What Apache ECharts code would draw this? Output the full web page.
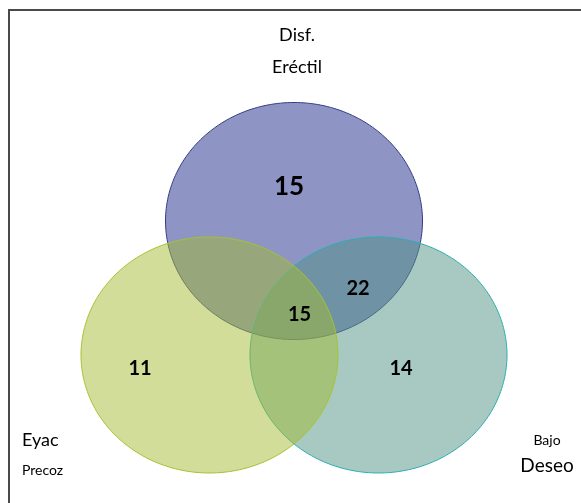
<!DOCTYPE html>
<html>
<head>
<meta charset="utf-8">
<script src="https://cdn.jsdelivr.net/npm/echarts@6/dist/echarts.min.js"></script>
<style>
html,body{margin:0;padding:0;background:#fff;}
#c{width:581px;height:503px;}
</style>
</head>
<body>
<div id="c"></div>
<script>
// ---- data ----
const setNames = ['Disf.\nEréctil', 'Eyac\nPrecoz', 'Bajo\nDeseo'];
const regionNames = ['Solo Disf. Eréctil', 'Solo Eyac Precoz', 'Solo Bajo Deseo', 'Disf. Eréctil + Bajo Deseo', 'Las tres'];
const regionValues = [15, 11, 14, 22, 15];

// ---- layout (geometry in chart units == pixels) ----
const ellipseLayout = [
  {cx: 294, cy: 221, rx: 128.5, ry: 118.5, fill: 'rgba(29,41,137,0.5)', stroke: '#353c86'},
  {cx: 209.5, cy: 355, rx: 128.5, ry: 118, fill: 'rgba(163,187,51,0.5)', stroke: '#a4c232'},
  {cx: 378.5, cy: 355, rx: 128.5, ry: 118, fill: 'rgba(81,147,133,0.5)', stroke: '#2aaeb0'}
];
const drawOrder = [0, 2, 1];
const regionLabelPos = [[289, 187, 26], [140, 369, 20], [401, 369, 20], [358, 289, 20], [299.5, 315, 20]];

const chart = echarts.init(document.getElementById('c'), null, {renderer: 'canvas'});

const ellipseData = drawOrder.map(i => [i]);

function ellipsePoints(api, e) {
  const pts = [];
  const n = 240;
  for (let k = 0; k < n; k++) {
    const t = 2 * Math.PI * k / n;
    pts.push(api.coord([e.cx + e.rx * Math.cos(t), e.cy + e.ry * Math.sin(t)]));
  }
  return pts;
}

const font = 'Lato, "Open Sans", sans-serif';

const option = {
  animation: false,
  grid: {left: 0, right: 0, top: 0, bottom: 0},
  xAxis: {type: 'value', min: 0, max: 581, show: false},
  yAxis: {type: 'value', min: 0, max: 503, inverse: true, show: false},
  graphic: [{
    type: 'rect', shape: {x: 9, y: 10, width: 620, height: 560},
    style: {fill: 'none', stroke: '#4a4a4a', lineWidth: 2}, silent: true
  }],
  series: [
    {
      type: 'custom',
      data: ellipseData,
      silent: true,
      renderItem: function (params, api) {
        const e = ellipseLayout[api.value(0)];
        return {
          type: 'polygon',
          shape: {points: ellipsePoints(api, e)},
          style: {fill: e.fill, stroke: e.stroke, lineWidth: 1}
        };
      }
    },
    {
      type: 'custom',
      data: regionValues.map((v, i) => [i, v]),
      silent: true,
      z: 5,
      renderItem: function (params, api) {
        const i = api.value(0);
        const p = regionLabelPos[i];
        const pt = api.coord([p[0], p[1]]);
        return {
          type: 'text',
          x: pt[0], y: pt[1],
          style: {
            text: String(api.value(1)),
            fill: '#000',
            font: 'bold ' + p[2] + 'px ' + font,
            align: 'center', verticalAlign: 'middle'
          }
        };
      }
    },
    {
      type: 'custom',
      data: setNames.map((n, i) => [i]),
      silent: true,
      z: 5,
      renderItem: function (params, api) {
        const i = api.value(0);
        const parts = setNames[i].split('\n');
        const lay = [
          [[297, 35, 18, 'center'], [297, 67, 18, 'center']],
          [[22, 440, 18, 'left'], [22, 470, 14, 'left']],
          [[547, 440, 14, 'center'], [547, 466, 19, 'center']]
        ][i];
        return {
          type: 'group',
          children: parts.map((t, k) => {
            const pt = api.coord([lay[k][0], lay[k][1]]);
            return {
              type: 'text', x: pt[0], y: pt[1],
              style: {text: t, fill: '#000', font: lay[k][2] + 'px ' + font, align: lay[k][3], verticalAlign: 'middle'}
            };
          })
        };
      }
    }
  ]
};
chart.setOption(option);
</script>
</body>
</html>
